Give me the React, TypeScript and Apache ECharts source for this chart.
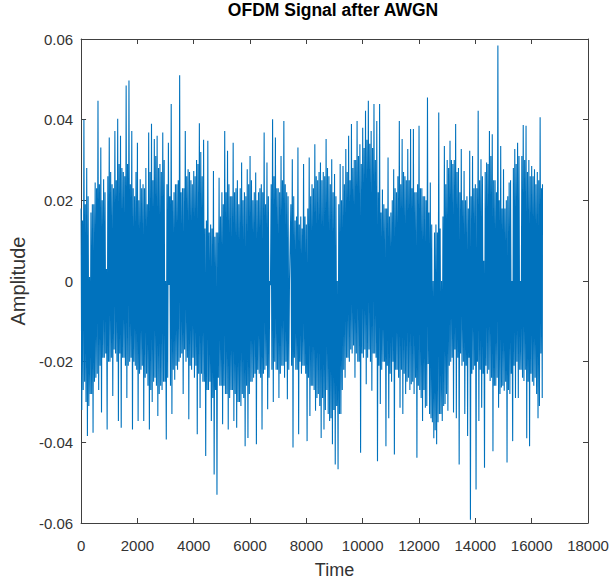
import React, { useEffect, useRef } from "react";
import * as echarts from "echarts";

// Readings are taken per 100 time units: a spike maximum, a spike minimum,
// and the typical (dense) maximum / minimum of the solid band in that slot.
const SAMPLE_STEP = 100;
const SIGNAL_END = 16384;

// Spike maxima, t = 0, 100, 200, ...
const upperPeaks = [
  0.018, 0.040, 0.028, 0.001, 0.019, 0.0244, 0.0447, 0.0331, 0.0252, 0.003,
  0.0356, 0.024, 0.0372, 0.0402, 0.036, 0.027, 0.0485, 0.0497, 0.0372, 0.021,
  0.0343, 0.0252, 0.024, 0.028, 0.0368, 0.039, 0.0352, 0.036, 0.029, 0.0368,
  0.000, 0.0343, 0.0439, 0.022, 0.024, 0.051, 0.023, 0.0372, 0.0277, 0.025,
  0.0273, 0.030, 0.0391, 0.026, 0.013, 0.0348, 0.014, 0.0273, 0.012, 0.0256,
  0.022, 0.0372, 0.0323, 0.021, 0.0343, 0.023, 0.019, 0.0294, 0.022, 0.0277,
  0.031, 0.020, 0.0269, 0.022, 0.024, 0.0368, 0.0294, 0.000, 0.0401, 0.0356,
  0.023, 0.031, 0.0397, 0.022, 0.000, 0.0302, 0.015, 0.0331, 0.016, 0.029,
  0.014, 0.0306, 0.024, 0.0339, 0.025, 0.0294, 0.027, 0.0352, 0.026, 0.0302,
  0.0265, 0.000, 0.029, 0.0285, 0.0327, 0.036, 0.0389, 0.030, 0.0397, 0.0339,
  0.038, 0.0422, 0.0447, 0.0372, 0.0439, 0.0397, 0.0439, 0.0227, 0.018, 0.0306,
  0.017, 0.0277, 0.022, 0.0397, 0.0352, 0.026, 0.0327, 0.0377, 0.0377, 0.022,
  0.0385, 0.023, 0.021, 0.0455, 0.0244, 0.000, 0.014, 0.0418, 0.000, 0.0335,
  0.030, 0.0348, 0.029, 0.0389, 0.028, 0.0327, 0.0273, 0.021, 0.0323, 0.031,
  0.024, 0.0422, 0.0302, 0.005, 0.0294, 0.0372, 0.0364, 0.025, 0.0584, 0.0335,
  0.0277, 0.020, 0.0244, 0.000, 0.0327, 0.0343, 0.000, 0.0387, 0.0385, 0.030,
  0.0285, 0.0277, 0.027, 0.0406,
];

// Spike minima, t = 25, 125, 225, ...
const lowerPeaks = [
  -0.032, -0.025, -0.0384, -0.028, -0.0376, -0.024, -0.027, -0.0326, -0.019, -0.0368,
  -0.020, -0.0285, -0.018, -0.0347, -0.0364, -0.019, -0.029, -0.020, -0.0368, -0.021,
  -0.0347, -0.022, -0.0347, -0.023, -0.0368, -0.030, -0.024, -0.0335, -0.026, -0.025,
  -0.0393, -0.001, -0.033, -0.0245, -0.022, -0.019, -0.028, -0.020, -0.0343, -0.022,
  -0.024, -0.038, -0.0315, -0.025, -0.0434, -0.027, -0.0347, -0.048, -0.053, -0.026,
  -0.0355, -0.028, -0.0368, -0.027, -0.0347, -0.0364, -0.030, -0.028, -0.041, -0.0389,
  -0.025, -0.024, -0.0405, -0.023, -0.0368, -0.022, -0.0318, -0.001, -0.030, -0.022,
  -0.029, -0.021, -0.024, -0.0293, 0.000, -0.0413, -0.022, -0.038, -0.023, -0.021,
  -0.0397, -0.0335, -0.026, -0.0322, -0.028, -0.0389, -0.0368, -0.027, -0.0347, -0.0405,
  -0.0455, -0.0467, -0.033, -0.022, -0.019, -0.020, -0.018, -0.024, -0.020, -0.0426,
  -0.019, -0.0256, -0.017, -0.0272, -0.018, -0.0447, -0.0305, -0.020, -0.041, -0.034,
  -0.025, -0.043, -0.022, -0.0314, -0.033, -0.028, -0.024, -0.0256, -0.028, -0.0438,
  -0.027, -0.0347, -0.0314, -0.0206, -0.034, -0.039, -0.0405, -0.033, -0.0347, -0.0305,
  -0.0322, -0.020, -0.0326, -0.034, -0.0455, -0.021, -0.033, -0.0384, -0.0592, -0.022,
  -0.0517, -0.0347, -0.0314, -0.0463, -0.023, -0.0248, -0.0422, -0.026, -0.0314, -0.0264,
  -0.0272, -0.045, -0.028, -0.0397, -0.029, -0.029, -0.022, -0.0248, -0.039, -0.041,
  -0.025, -0.024, -0.034, -0.018,
];

// Top of the dense band, t = 50, 150, 250, ...
const upperDense = [
  0.015, 0.019, 0.021, 0.017, 0.019, 0.023, 0.024, 0.020, 0.022, 0.026,
  0.027, 0.023, 0.025, 0.029, 0.028, 0.026, 0.029, 0.024, 0.023, 0.027,
  0.020, 0.023, 0.023, 0.019, 0.027, 0.025, 0.031, 0.028, 0.027, 0.030,
  0.024, 0.021, 0.020, 0.024, 0.025, 0.022, 0.023, 0.026, 0.027, 0.024,
  0.026, 0.029, 0.032, 0.035, 0.015, 0.012, 0.013, 0.011, 0.012, 0.016,
  0.019, 0.022, 0.024, 0.021, 0.022, 0.025, 0.023, 0.020, 0.021, 0.024,
  0.025, 0.022, 0.020, 0.023, 0.022, 0.019, 0.021, 0.024, 0.026, 0.023,
  0.022, 0.025, 0.024, 0.021, 0.019, 0.021, 0.016, 0.014, 0.013, 0.016,
  0.018, 0.021, 0.023, 0.026, 0.027, 0.025, 0.026, 0.028, 0.024, 0.022,
  0.021, 0.019, 0.020, 0.024, 0.027, 0.025, 0.028, 0.030, 0.031, 0.029,
  0.033, 0.035, 0.034, 0.033, 0.030, 0.022, 0.017, 0.019, 0.018, 0.016,
  0.020, 0.023, 0.026, 0.024, 0.027, 0.025, 0.025, 0.023, 0.022, 0.024,
  0.023, 0.021, 0.020, 0.017, 0.014, 0.012, 0.012, 0.013, 0.016, 0.024,
  0.028, 0.030, 0.030, 0.027, 0.022, 0.020, 0.020, 0.018, 0.021, 0.023,
  0.023, 0.025, 0.026, 0.027, 0.029, 0.031, 0.025, 0.022, 0.020, 0.018,
  0.018, 0.021, 0.025, 0.028, 0.029, 0.031, 0.031, 0.030, 0.027, 0.026,
  0.026, 0.024, 0.025, 0.023,
];

// Bottom of the dense band, t = 75, 175, 275, ...
const lowerDense = [
  -0.027, -0.030, -0.031, -0.028, -0.025, -0.023, -0.021, -0.019, -0.018, -0.020,
  -0.019, -0.017, -0.020, -0.018, -0.019, -0.021, -0.021, -0.019, -0.020, -0.022,
  -0.023, -0.021, -0.024, -0.026, -0.027, -0.025, -0.026, -0.028, -0.027, -0.025,
  -0.024, -0.026, -0.022, -0.021, -0.020, -0.018, -0.017, -0.019, -0.021, -0.019,
  -0.021, -0.023, -0.023, -0.025, -0.027, -0.025, -0.029, -0.027, -0.024, -0.026,
  -0.026, -0.028, -0.029, -0.027, -0.028, -0.030, -0.031, -0.029, -0.026, -0.028,
  -0.025, -0.023, -0.022, -0.024, -0.023, -0.021, -0.024, -0.022, -0.020, -0.022,
  -0.023, -0.021, -0.020, -0.022, -0.021, -0.019, -0.022, -0.020, -0.021, -0.023,
  -0.024, -0.026, -0.027, -0.029, -0.031, -0.029, -0.032, -0.033, -0.034, -0.032,
  -0.031, -0.033, -0.027, -0.024, -0.019, -0.017, -0.016, -0.018, -0.020, -0.018,
  -0.017, -0.019, -0.020, -0.018, -0.019, -0.021, -0.022, -0.020, -0.021, -0.023,
  -0.020, -0.022, -0.024, -0.022, -0.023, -0.025, -0.027, -0.025, -0.024, -0.026,
  -0.029, -0.027, -0.031, -0.033, -0.035, -0.037, -0.035, -0.033, -0.031, -0.028,
  -0.021, -0.019, -0.017, -0.019, -0.018, -0.020, -0.021, -0.019, -0.023, -0.021,
  -0.020, -0.022, -0.023, -0.021, -0.022, -0.024, -0.026, -0.024, -0.028, -0.026,
  -0.025, -0.027, -0.023, -0.021, -0.020, -0.022, -0.024, -0.022, -0.025, -0.023,
  -0.026, -0.028, -0.031, -0.029,
];

const endValue = 0.024;

const xTicks = { min: 0, max: 18000, interval: 2000 };
const yTicks = { min: -0.06, max: 0.06, interval: 0.02 };

const TITLE = "OFDM Signal after AWGN";
const X_NAME = "Time";
const Y_NAME = "Amplitude";

const FONT = "'Liberation Sans', Arial, Helvetica, sans-serif";
const AXIS_COLOR = "#333333";
const TRACE_COLOR = "#0072BD";

function buildSignal(): [number, number][] {
  const pts: [number, number][] = [];
  const q = SAMPLE_STEP / 4;
  for (let i = 0; i < upperPeaks.length; i++) {
    const t = i * SAMPLE_STEP;
    pts.push([t, upperPeaks[i]]);
    pts.push([t + q, lowerPeaks[i]]);
    pts.push([t + 2 * q, upperDense[i]]);
    pts.push([t + 3 * q, lowerDense[i]]);
  }
  pts.push([SIGNAL_END, endValue]);
  return pts;
}

export default function App() {
  const ref = useRef<HTMLDivElement>(null);
  useEffect(() => {
    if (!ref.current) return;
    const chart = echarts.init(ref.current, null, { renderer: "svg" });
    const tickLabel = { color: AXIS_COLOR, fontFamily: FONT, fontSize: 15 };
    const line = { show: true, onZero: false, lineStyle: { color: "#404040", width: 1 } };
    const tick = { show: true, inside: true, length: 5, lineStyle: { color: "#404040" } };
    const fmtY = (v: number) => String(Number(v.toFixed(2)));
    const fmtX = (v: number) => String(v);
    chart.setOption({
      animation: false,
      backgroundColor: "#ffffff",
      title: {
        text: TITLE,
        left: 333,
        top: 1,
        padding: 0,
        textAlign: "center",
        textStyle: { fontFamily: FONT, fontWeight: "bold", fontSize: 17.5, color: "#000" },
      },
      grid: { left: 78, right: 28, top: 39, bottom: 61, containLabel: false },
      xAxis: [
        {
          type: "value", ...xTicks, position: "bottom",
          axisLine: line, axisTick: tick, splitLine: { show: false },
          axisLabel: { ...tickLabel, margin: 15, formatter: fmtX },
          name: X_NAME, nameLocation: "middle", nameGap: 38,
          nameTextStyle: { fontFamily: FONT, fontSize: 18, color: AXIS_COLOR },
        },
        {
          type: "value", ...xTicks, position: "top",
          axisLine: line, axisTick: tick, splitLine: { show: false },
          axisLabel: { show: false },
        },
      ],
      yAxis: [
        {
          type: "value", ...yTicks, position: "left",
          axisLine: line, axisTick: tick, splitLine: { show: false },
          axisLabel: { ...tickLabel, margin: 8, formatter: fmtY },
          name: Y_NAME, nameLocation: "middle", nameGap: 45,
          nameTextStyle: { fontFamily: FONT, fontSize: 20, color: AXIS_COLOR },
        },
        {
          type: "value", ...yTicks, position: "right",
          axisLine: line, axisTick: tick, splitLine: { show: false },
          axisLabel: { show: false },
        },
      ],
      series: [
        {
          type: "line",
          xAxisIndex: 0,
          yAxisIndex: 0,
          data: buildSignal(),
          showSymbol: false,
          symbol: "none",
          lineStyle: { color: TRACE_COLOR, width: 1.1 },
          silent: true,
        },
      ],
    });
    return () => chart.dispose();
  }, []);
  return (
    <div
      ref={ref}
      style={{ position: "absolute", left: 0, top: 0, width: 616, height: 584 }}
    />
  );
}
